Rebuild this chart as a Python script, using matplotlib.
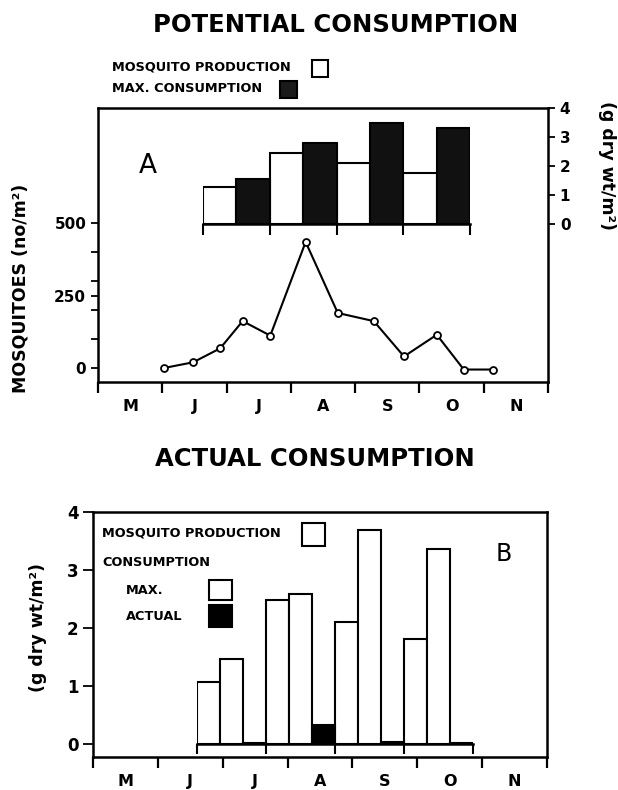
import matplotlib
matplotlib.use('Agg')
import matplotlib.pyplot as plt
from matplotlib.patches import Rectangle
import numpy as np

W, H = 618., 790.

# mosquito density (no/m2), sampled through the season (x in months from 1 May)
mosq_t = [1.02, 1.48, 1.90, 2.25, 2.68, 3.23, 3.73, 4.29, 4.76, 5.27, 5.69, 6.15]
mosq_n = [0, 20, 68, 162, 112, 435, 190, 162, 40, 115, -5, -5]

months = ['M', 'J', 'J', 'A', 'S', 'O', 'N']

# potential consumption (g dry wt/m2), four periods
prod_a = [1.26, 2.46, 2.10, 1.75]
maxc_a = [1.54, 2.80, 3.50, 3.30]

# actual consumption (g dry wt/m2)
prod_b = [1.07, 2.48, 2.10, 1.81]
maxc_b = [1.47, 2.59, 3.69, 3.36]
act_b = [0.02, 0.33, 0.04, 0.01]

plt.rcParams['font.family'] = 'DejaVu Sans'
plt.rcParams['font.weight'] = 'bold'


def fbox(l, t, r, b):
    return [l / W, 1 - b / H, (r - l) / W, (b - t) / H]


def fx(x):
    return x / W


def fy(y):
    return 1 - y / H


def month_axis(ax):
    ax.set_xlim(0, 7)
    ax.set_xticks(np.arange(8))
    ax.set_xticklabels([])
    ax.set_xticks(np.arange(7) + 0.5, minor=True)
    ax.set_xticklabels(months, minor=True, fontsize=11.5, fontweight='bold')
    ax.tick_params(axis='x', which='major', direction='out', length=8, width=1.6)
    ax.tick_params(axis='x', which='minor', length=0, pad=12)


def box(fig, l, t, r, b, fc):
    fig.patches.append(Rectangle((fx(l), fy(b)), (r - l) / W, (b - t) / H,
                                 transform=fig.transFigure, facecolor=fc,
                                 edgecolor='black', linewidth=1.5))


fig = plt.figure(figsize=(6.18, 7.90), dpi=100)
lfs = 9.3  # legend text size

# ---- A: potential consumption ----
ax = fig.add_axes(fbox(98, 108, 548, 382))
for s in ax.spines.values():
    s.set_linewidth(1.8)
ax.plot(mosq_t, mosq_n, color='black', lw=1.5, marker='o', ms=5,
        mfc='white', mec='black', mew=1.3)
ax.set_ylim(-48, 897)
ax.set_yticks([0, 100, 200, 250, 300, 400, 500])
ax.set_yticklabels(['0', '', '', '250', '', '', '500'], fontsize=11, fontweight='bold')
ax.tick_params(axis='y', direction='out', length=5, width=1.3)
month_axis(ax)
ax.set_ylabel('MOSQUITOES (no/m²)', fontsize=12.5, fontweight='bold')
ax.yaxis.set_label_coords(-0.152, 0.34)
ax.text(0.11, 0.79, 'A', transform=ax.transAxes, fontsize=19, fontweight='normal',
        ha='center', va='center')

axr = ax.twinx()
axr.set_ylim(-5.45, 4)
axr.set_yticks([0, 1, 2, 3, 4])
axr.set_yticklabels(['0', '1', '2', '3', '4'], fontsize=11, fontweight='bold')
axr.tick_params(axis='y', direction='out', length=5, width=1.3)
for s in axr.spines.values():
    s.set_visible(False)
axr.set_ylabel('(g dry wt/m²)', fontsize=12.5, fontweight='bold', rotation=270,
               va='center')
axr.yaxis.set_label_coords(1.131, 0.79)

ins = fig.add_axes(fbox(203, 108, 470, 224))
ins.patch.set_alpha(0)
g = np.arange(4)
ins.bar(g, prod_a, width=0.5, align='edge', color='white', edgecolor='black', lw=1.5)
ins.bar(g + 0.5, maxc_a, width=0.5, align='edge', color='#111111', edgecolor='black', lw=1.5)
ins.set_xlim(0, 4)
ins.set_ylim(0, 4)
ins.set_yticks([])
ins.set_xticks(np.arange(5))
ins.set_xticklabels([])
ins.tick_params(axis='x', direction='out', length=8, width=1.5)
for k in ['left', 'right', 'top']:
    ins.spines[k].set_visible(False)
ins.spines['bottom'].set_linewidth(1.8)

fig.text(fx(336), fy(25), 'POTENTIAL CONSUMPTION', fontsize=17.5, fontweight='bold',
         ha='center', va='center')
fig.text(fx(112), fy(67), 'MOSQUITO PRODUCTION', fontsize=lfs, fontweight='bold', va='center')
fig.text(fx(112), fy(89), 'MAX. CONSUMPTION', fontsize=lfs, fontweight='bold', va='center')
box(fig, 312, 60, 328, 77, 'white')
box(fig, 280, 81, 297, 98, '#1a1a1a')

# ---- B: actual consumption ----
bx = fig.add_axes(fbox(93, 512, 547, 757))
for s in bx.spines.values():
    s.set_linewidth(1.8)
bx.set_ylim(-0.224, 4)
bx.set_yticks([0, 1, 2, 3, 4])
bx.set_yticklabels(['0', '1', '2', '3', '4'], fontsize=12, fontweight='bold')
bx.tick_params(axis='y', direction='out', length=7, width=1.3)
month_axis(bx)
bx.set_ylabel('(g dry wt/m²)', fontsize=12.5, fontweight='bold')
bx.yaxis.set_label_coords(-0.101, 0.527)
bx.text(0.905, 0.83, 'B', transform=bx.transAxes, fontsize=17, fontweight='normal',
        ha='center', va='center')

ins2 = fig.add_axes(fbox(197, 512, 473, 744))
ins2.patch.set_alpha(0)
w = 1 / 3.
ins2.bar(g, prod_b, width=w, align='edge', color='white', edgecolor='black', lw=1.5)
ins2.bar(g + w, maxc_b, width=w, align='edge', color='white', edgecolor='black', lw=1.5)
ins2.bar(g + 2 * w, act_b, width=w, align='edge', color='black', edgecolor='black', lw=1.5)
ins2.set_xlim(0, 4)
ins2.set_ylim(0, 4)
ins2.set_yticks([])
ins2.set_xticks(np.arange(5))
ins2.set_xticklabels([])
ins2.tick_params(axis='x', direction='out', length=7, width=1.5)
for k in ['left', 'right', 'top']:
    ins2.spines[k].set_visible(False)
ins2.spines['bottom'].set_linewidth(1.8)

fig.text(fx(315), fy(459), 'ACTUAL CONSUMPTION', fontsize=17.5, fontweight='bold',
         ha='center', va='center')
fig.text(fx(102), fy(533), 'MOSQUITO PRODUCTION', fontsize=lfs, fontweight='bold', va='center')
fig.text(fx(102), fy(562), 'CONSUMPTION', fontsize=lfs, fontweight='bold', va='center')
fig.text(fx(126), fy(590), 'MAX.', fontsize=lfs, fontweight='bold', va='center')
fig.text(fx(126), fy(616), 'ACTUAL', fontsize=lfs, fontweight='bold', va='center')
box(fig, 302, 523, 325, 546, 'white')
box(fig, 209, 580, 232, 600, 'white')
box(fig, 209, 605, 232, 627, 'black')

fig.savefig('out.png', dpi=100)
